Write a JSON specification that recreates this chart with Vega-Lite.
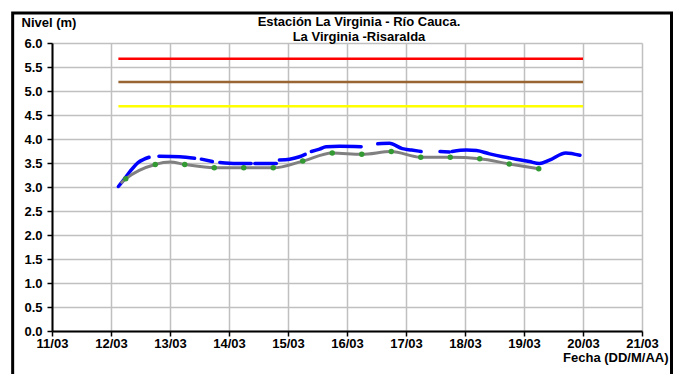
{
  "$schema": "https://vega.github.io/schema/vega-lite/v6.json",
  "width": 590,
  "height": 288,
  "autosize": {"type": "none"},
  "padding": {"left": 52, "top": 43, "right": 35, "bottom": 43},
  "background": "#ffffff",
  "config": {
    "view": {"stroke": null},
    "font": "Liberation Sans",
    "axis": {
      "labelFont": "Liberation Sans", "labelFontWeight": "bold", "labelFontSize": 13, "labelColor": "#000000",
      "titleFont": "Liberation Sans", "titleFontWeight": "bold", "titleFontSize": 13, "titleColor": "#000000",
      "domainColor": "#000000", "domainWidth": 2, "tickColor": "#000000", "tickWidth": 1.5, "tickSize": 5,
      "gridColor": "#c0c0c0", "gridWidth": 1.5, "gridOpacity": 1
    }
  },
  "title": {
    "text": ["Estación La Virginia  - Río Cauca.", "La Virginia -Risaralda"],
    "font": "Liberation Sans", "fontSize": 13, "fontWeight": "bold", "color": "#000000",
    "anchor": "middle", "dx": 12, "dy": 34, "lineHeight": 15, "offset": 2
  },
  "datasets": {
    "blue": [
      {"t": "2021-03-12T03:00:00Z", "v": 3.01, "seg": 1},
      {"t": "2021-03-12T05:30:00Z", "v": 3.17, "seg": 1},
      {"t": "2021-03-12T08:00:00Z", "v": 3.34, "seg": 1},
      {"t": "2021-03-12T11:00:00Z", "v": 3.51, "seg": 1},
      {"t": "2021-03-12T13:30:00Z", "v": 3.58, "seg": 1},
      {"t": "2021-03-12T15:30:00Z", "v": 3.62, "seg": 1},
      {"t": "2021-03-12T19:30:00Z", "v": 3.64, "seg": 2},
      {"t": "2021-03-13T04:00:00Z", "v": 3.63, "seg": 2},
      {"t": "2021-03-13T10:00:00Z", "v": 3.60, "seg": 2},
      {"t": "2021-03-13T12:45:00Z", "v": 3.58, "seg": 3},
      {"t": "2021-03-13T17:15:00Z", "v": 3.53, "seg": 3},
      {"t": "2021-03-13T20:15:00Z", "v": 3.51, "seg": 4},
      {"t": "2021-03-14T03:00:00Z", "v": 3.49, "seg": 4},
      {"t": "2021-03-14T09:00:00Z", "v": 3.49, "seg": 4},
      {"t": "2021-03-14T10:30:00Z", "v": 3.49, "seg": 5},
      {"t": "2021-03-14T19:15:00Z", "v": 3.49, "seg": 5},
      {"t": "2021-03-14T20:30:00Z", "v": 3.56, "seg": 6},
      {"t": "2021-03-15T00:40:00Z", "v": 3.58, "seg": 6},
      {"t": "2021-03-15T04:40:00Z", "v": 3.63, "seg": 6},
      {"t": "2021-03-15T07:00:00Z", "v": 3.68, "seg": 6},
      {"t": "2021-03-15T09:30:00Z", "v": 3.74, "seg": 7},
      {"t": "2021-03-15T12:50:00Z", "v": 3.79, "seg": 7},
      {"t": "2021-03-15T15:30:00Z", "v": 3.84, "seg": 7},
      {"t": "2021-03-15T21:00:00Z", "v": 3.85, "seg": 7},
      {"t": "2021-03-16T05:45:00Z", "v": 3.84, "seg": 7},
      {"t": "2021-03-16T12:30:00Z", "v": 3.90, "seg": 8},
      {"t": "2021-03-16T17:15:00Z", "v": 3.91, "seg": 8},
      {"t": "2021-03-16T22:30:00Z", "v": 3.80, "seg": 8},
      {"t": "2021-03-17T02:15:00Z", "v": 3.77, "seg": 8},
      {"t": "2021-03-17T06:10:00Z", "v": 3.74, "seg": 8},
      {"t": "2021-03-17T13:50:00Z", "v": 3.74, "seg": 9},
      {"t": "2021-03-17T17:40:00Z", "v": 3.73, "seg": 9},
      {"t": "2021-03-17T18:45:00Z", "v": 3.74, "seg": 10},
      {"t": "2021-03-18T00:35:00Z", "v": 3.77, "seg": 10},
      {"t": "2021-03-18T04:40:00Z", "v": 3.76, "seg": 10},
      {"t": "2021-03-18T10:00:00Z", "v": 3.69, "seg": 10},
      {"t": "2021-03-18T15:20:00Z", "v": 3.63, "seg": 10},
      {"t": "2021-03-18T20:45:00Z", "v": 3.58, "seg": 10},
      {"t": "2021-03-19T02:10:00Z", "v": 3.53, "seg": 10},
      {"t": "2021-03-19T06:15:00Z", "v": 3.49, "seg": 10},
      {"t": "2021-03-19T10:20:00Z", "v": 3.56, "seg": 10},
      {"t": "2021-03-19T17:00:00Z", "v": 3.71, "seg": 10},
      {"t": "2021-03-19T22:45:00Z", "v": 3.66, "seg": 10}
    ],
    "gray": [
      {"t": "2021-03-12T04:00:00Z", "v": 3.08, "pt": false},
      {"t": "2021-03-12T06:00:00Z", "v": 3.17, "pt": true},
      {"t": "2021-03-12T18:00:00Z", "v": 3.47, "pt": true},
      {"t": "2021-03-13T00:00:00Z", "v": 3.52, "pt": false},
      {"t": "2021-03-13T06:00:00Z", "v": 3.47, "pt": true},
      {"t": "2021-03-13T18:00:00Z", "v": 3.40, "pt": true},
      {"t": "2021-03-14T06:00:00Z", "v": 3.40, "pt": true},
      {"t": "2021-03-14T18:00:00Z", "v": 3.40, "pt": true},
      {"t": "2021-03-15T06:00:00Z", "v": 3.54, "pt": true},
      {"t": "2021-03-15T18:00:00Z", "v": 3.71, "pt": true},
      {"t": "2021-03-16T06:00:00Z", "v": 3.68, "pt": true},
      {"t": "2021-03-16T18:00:00Z", "v": 3.74, "pt": true},
      {"t": "2021-03-17T06:00:00Z", "v": 3.62, "pt": true},
      {"t": "2021-03-17T18:00:00Z", "v": 3.62, "pt": true},
      {"t": "2021-03-18T06:00:00Z", "v": 3.59, "pt": true},
      {"t": "2021-03-18T18:00:00Z", "v": 3.48, "pt": true},
      {"t": "2021-03-19T06:00:00Z", "v": 3.38, "pt": true}
    ],
    "thr": [
      {"s": "roja", "t": "2021-03-12T03:00:00Z", "v": 5.67},
      {"s": "roja", "t": "2021-03-20T00:00:00Z", "v": 5.67},
      {"s": "naranja", "t": "2021-03-12T03:00:00Z", "v": 5.19},
      {"s": "naranja", "t": "2021-03-20T00:00:00Z", "v": 5.19},
      {"s": "amarilla", "t": "2021-03-12T03:00:00Z", "v": 4.68},
      {"s": "amarilla", "t": "2021-03-20T00:00:00Z", "v": 4.68}
    ]
  },
  "layer": [
    {
      "data": {"name": "thr"},
      "mark": {"type": "line", "strokeWidth": 2.5},
      "encoding": {
        "x": {
          "field": "t", "type": "temporal",
          "scale": {"type": "utc", "domain": [1615420800000, 1616284800000], "nice": false},
          "axis": {
            "tickCount": 10,
            "format": "%d/%m", "labelPadding": 1, "labelFlush": false, "labelOverlap": false,
            "title": "Fecha (DD/M/AA)", "titleAnchor": "start", "titleAlign": "right", "titleX": 616, "titleY": 26, "titleBaseline": "middle"
          }
        },
        "y": {
          "field": "v", "type": "quantitative",
          "scale": {"domain": [0, 6], "nice": false, "zero": false},
          "axis": {
            "tickCount": 12,
            "format": ".1f", "labelPadding": 5, "labelFlush": false, "labelOverlap": false,
            "title": "Nivel (m)", "titleAngle": 0, "titleAlign": "left", "titleAnchor": "start", "titleX": -31, "titleY": -21, "titleBaseline": "middle"
          }
        },
        "detail": {"field": "s"},
        "color": {"field": "s", "type": "nominal", "legend": null,
          "scale": {"domain": ["roja", "naranja", "amarilla"], "range": ["#ff0000", "#996633", "#ffff00"]}}
      }
    },
    {
      "data": {"name": "blue"},
      "mark": {"type": "line", "color": "#0000ff", "strokeWidth": 3.5, "interpolate": "monotone", "strokeCap": "round"},
      "encoding": {
        "x": {"field": "t", "type": "temporal"},
        "y": {"field": "v", "type": "quantitative"},
        "detail": {"field": "seg"}
      }
    },
    {
      "data": {"name": "gray"},
      "mark": {"type": "line", "color": "#808080", "strokeWidth": 3, "interpolate": "monotone"},
      "encoding": {
        "x": {"field": "t", "type": "temporal"},
        "y": {"field": "v", "type": "quantitative"}
      }
    },
    {
      "data": {"name": "gray"},
      "transform": [{"filter": "datum.pt"}],
      "mark": {"type": "circle", "color": "#339933", "size": 30, "opacity": 1},
      "encoding": {
        "x": {"field": "t", "type": "temporal"},
        "y": {"field": "v", "type": "quantitative"}
      }
    },
    {
      "data": {"values": [{"frame": 1}]},
      "mark": {"type": "rect", "fill": null, "stroke": "#000000", "strokeWidth": 3, "clip": false},
      "encoding": {
        "x": {"datum": 1615363200000, "type": "temporal",
          "axis": {
            "tickCount": 10,
            "format": "%d/%m", "labelPadding": 1, "labelFlush": false, "labelOverlap": false,
            "title": "Fecha (DD/M/AA)", "titleAnchor": "start", "titleAlign": "right", "titleX": 616, "titleY": 26, "titleBaseline": "middle"
          }},
        "x2": {"datum": 1616328000000},
        "y": {"datum": 6.625, "type": "quantitative",
          "axis": {
            "tickCount": 12,
            "format": ".1f", "labelPadding": 5, "labelFlush": false, "labelOverlap": false,
            "title": "Nivel (m)", "titleAngle": 0, "titleAlign": "left", "titleAnchor": "start", "titleX": -31, "titleY": -21, "titleBaseline": "middle"
          }},
        "y2": {"datum": -1.2}
      }
    }
  ]
}
